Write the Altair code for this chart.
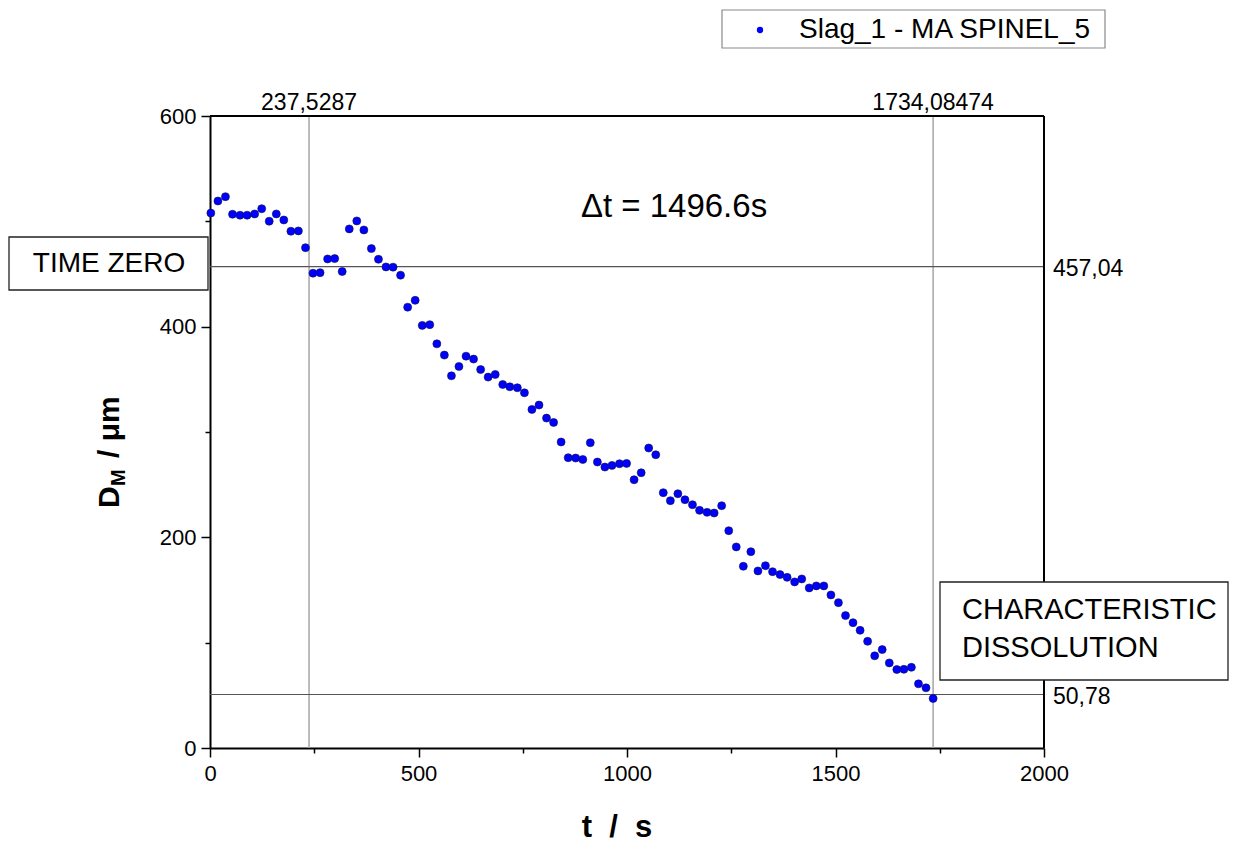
import altair as alt
import pandas as pd

# Dissolution series: time (s) and particle diameter D_M (µm)
time_s = [2, 19, 37, 54, 72, 89, 107, 124, 142, 159, 177, 194, 212, 229, 247, 264, 282, 299, 317, 334,
          352, 369, 387, 404, 422, 439, 457, 474, 492, 509, 527, 544, 562, 579, 597, 614, 632, 649, 667, 684,
          702, 719, 737, 754, 772, 789, 807, 824, 842, 859, 877, 894, 912, 929, 947, 964, 982, 999, 1017, 1034,
          1052, 1069, 1087, 1104, 1122, 1139, 1157, 1174, 1192, 1209, 1227, 1244, 1262, 1279, 1297, 1314, 1332,
          1349, 1367, 1384, 1402, 1419, 1437, 1454, 1472, 1489, 1507, 1524, 1542, 1559, 1577, 1594, 1612, 1629,
          1647, 1664, 1682, 1699, 1717, 1734.1]

diameter_um = [507.8, 519.3, 523.4, 506.7, 505.8, 505.8, 507.0, 512.0, 500.1, 507.0,
               501.3, 490.6, 490.9, 475.0, 450.8, 451.3, 464.3, 464.6, 452.3, 492.8,
               500.4, 491.8, 474.1, 464.0, 456.7, 456.5, 448.9, 418.5, 425.0, 401.2,
               401.9, 383.7, 373.0, 353.3, 362.2, 372.0, 369.2, 359.3, 352.1, 354.6,
               345.1, 342.9, 342.0, 337.2, 321.4, 325.6, 313.2, 309.1, 290.5, 275.6,
               275.3, 273.9, 289.8, 271.5, 266.7, 268.3, 269.9, 270.2, 254.7, 261.3,
               284.8, 278.4, 242.4, 234.8, 241.4, 235.7, 231.0, 225.6, 223.7, 223.1,
               230.0, 206.3, 190.9, 172.5, 186.4, 168.1, 173.1, 167.4, 164.6, 162.0,
               157.7, 160.5, 152.0, 153.9, 153.9, 145.3, 138.0, 125.7, 119.0, 111.7,
               101.3, 87.5, 93.4, 80.8, 74.5, 74.7, 76.6, 60.9, 57.1, 47.0]

series_name = "Slag_1 - MA SPINEL_5"

# Marker lines: time zero / characteristic dissolution time, and the matching diameters
marker_times = [237.5287, 1734.08474]
marker_diams = [457.04, 50.78]

x_ticks = list(range(0, 2001, 250))
y_ticks = list(range(0, 601, 100))

W, H = 834, 632
FONT = "Liberation Sans"


def comma_decimal(v):
    return str(v).replace(".", ",")


points_df = pd.DataFrame({"t": time_s, "D": diameter_um})
vlines_df = pd.DataFrame({"t": marker_times, "label": [comma_decimal(v) for v in marker_times]})
hlines_df = pd.DataFrame({"D": marker_diams, "label": [comma_decimal(v) for v in marker_diams]})
one = pd.DataFrame({"k": [0]})

x_scale = alt.Scale(domain=[0, 2000], nice=False)
y_scale = alt.Scale(domain=[0, 600], nice=False)

x_axis = alt.Axis(
    values=x_ticks, format="d",
    labelExpr="datum.value % 500 === 0 ? datum.label : ''",
    tickSize={"condition": {"test": "datum.value % 500 !== 0", "value": 5}, "value": 9},
    grid=False, domainColor="black", domainWidth=2, tickColor="black", tickWidth=1.5,
    labelFontSize=22, labelColor="black", labelFont=FONT, labelPadding=6,
    labelFlush=False, labelOverlap=False, title=None,
)
y_axis = alt.Axis(
    values=y_ticks, format="d",
    labelExpr="datum.value % 200 === 0 ? datum.label : ''",
    tickSize={"condition": {"test": "datum.value % 200 !== 0", "value": 5}, "value": 9},
    grid=False, domainColor="black", domainWidth=2, tickColor="black", tickWidth=1.5,
    labelFontSize=22, labelColor="black", labelFont=FONT, labelPadding=5,
    labelFlush=False, labelOverlap=False, title=None,
)

# Frame: top and right edges of the plot box
frame_top = alt.Chart(one).mark_rule(color="black", strokeWidth=2).encode(
    x=alt.value(0), x2=alt.value(W), y=alt.value(0))
frame_right = alt.Chart(one).mark_rule(color="black", strokeWidth=2).encode(
    x=alt.value(W), y=alt.value(0), y2=alt.value(H))

vlines = alt.Chart(vlines_df).mark_rule(color="#a6a6a6", strokeWidth=1.5).encode(
    x=alt.X("t:Q", scale=x_scale, axis=x_axis))
hlines = alt.Chart(hlines_df).mark_rule(color="#555555", strokeWidth=1.2).encode(
    y=alt.Y("D:Q", scale=y_scale, axis=y_axis))

vline_labels = alt.Chart(vlines_df).mark_text(
    font=FONT, fontSize=23, color="black", baseline="middle", align="center"
).encode(x=alt.X("t:Q", scale=x_scale), y=alt.value(-13), text="label:N")

hline_labels = alt.Chart(hlines_df).mark_text(
    font=FONT, fontSize=23, color="black", baseline="middle", align="left", dy=2
).encode(x=alt.value(843), y=alt.Y("D:Q", scale=y_scale), text="label:N")

points = alt.Chart(points_df).mark_circle(
    size=64, color="#0000ff", opacity=1, stroke="#10104a", strokeWidth=0.6
).encode(x=alt.X("t:Q", scale=x_scale), y=alt.Y("D:Q", scale=y_scale))

delta_df = pd.DataFrame({"txt": [f"\u0394t = {marker_times[1] - marker_times[0]:.1f}s"]})
delta_text = alt.Chart(delta_df).mark_text(
    font=FONT, fontSize=33, color="black", align="center", baseline="middle"
).encode(x=alt.value(464), y=alt.value(91), text="txt:N")

# "TIME ZERO" callout box on the left
tz_box = alt.Chart(one).mark_rect(fill="white", stroke="#222222", strokeWidth=1.3).encode(
    x=alt.value(-201), x2=alt.value(-2), y=alt.value(121), y2=alt.value(174))
tz_text = alt.Chart(pd.DataFrame({"txt": ["TIME ZERO"]})).mark_text(
    font=FONT, fontSize=28, color="black", align="center", baseline="middle"
).encode(x=alt.value(-101), y=alt.value(148), text="txt:N")

# "CHARACTERISTIC DISSOLUTION" callout box on the right
cd_box = alt.Chart(one).mark_rect(fill="white", stroke="#222222", strokeWidth=1.3).encode(
    x=alt.value(730), x2=alt.value(1018), y=alt.value(466), y2=alt.value(564))
cd_text = alt.Chart(pd.DataFrame({"txt": [["CHARACTERISTIC", "DISSOLUTION"]]})).mark_text(
    font=FONT, fontSize=29, color="black", align="left", baseline="middle", lineHeight=38
).encode(x=alt.value(752), y=alt.value(494), text="txt")

# Legend box
lg_box = alt.Chart(one).mark_rect(fill="white", stroke="#8a8a8a", strokeWidth=1.2).encode(
    x=alt.value(512), x2=alt.value(895), y=alt.value(-106), y2=alt.value(-68))
lg_dot = alt.Chart(one).mark_circle(size=40, color="#0000ff", opacity=1).encode(
    x=alt.value(550), y=alt.value(-86))
lg_text = alt.Chart(pd.DataFrame({"txt": [series_name]})).mark_text(
    font=FONT, fontSize=28, color="black", align="left", baseline="middle"
).encode(x=alt.value(589), y=alt.value(-86), text="txt:N")

# Axis titles
xt = alt.Chart(pd.DataFrame({"txt": ["t\u00a0\u00a0/\u00a0\u00a0s"]})).mark_text(
    font=FONT, fontSize=31, fontWeight="bold", color="black", align="center", baseline="middle"
).encode(x=alt.value(407), y=alt.value(712), text="txt:N")
yt_d = alt.Chart(pd.DataFrame({"txt": ["D"]})).mark_text(
    font=FONT, fontSize=30, fontWeight="bold", color="black", align="left", baseline="middle", angle=270
).encode(x=alt.value(-100), y=alt.value(392), text="txt:N")
yt_m = alt.Chart(pd.DataFrame({"txt": ["M"]})).mark_text(
    font=FONT, fontSize=20, fontWeight="bold", color="black", align="left", baseline="middle", angle=270
).encode(x=alt.value(-91), y=alt.value(370), text="txt:N")
yt_rest = alt.Chart(pd.DataFrame({"txt": ["/\u00a0\u03bcm"]})).mark_text(
    font=FONT, fontSize=30, fontWeight="bold", color="black", align="left", baseline="middle", angle=270
).encode(x=alt.value(-100), y=alt.value(342), text="txt:N")

chart = alt.layer(
    vlines, hlines, frame_top, frame_right, points, vline_labels, hline_labels, delta_text,
    tz_box, tz_text, cd_box, cd_text, lg_box, lg_dot, lg_text, xt, yt_d, yt_m, yt_rest,
).properties(
    width=W, height=H,
    autosize=alt.AutoSizeParams(type="none"),
    padding={"left": 210, "top": 116, "right": 196, "bottom": 95},
    background="white",
).configure_view(stroke="transparent")

chart.save("out.html", embed_options={"renderer": "svg", "actions": False})
